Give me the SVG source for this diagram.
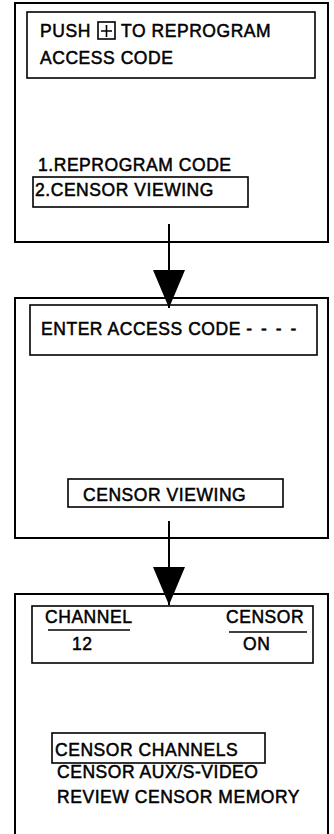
<svg xmlns="http://www.w3.org/2000/svg" width="334" height="834" viewBox="0 0 334 834">
<style>
.outer{fill:none;stroke:#000;stroke-width:2}
.inner{fill:none;stroke:#000;stroke-width:1.6}
.t{font-family:"Liberation Sans",Arial,sans-serif;font-size:17.5px;letter-spacing:0.55px;fill:#000;stroke:#000;stroke-width:0.5}
.conn{stroke:#000;stroke-width:2;fill:none}
</style>
<defs>
<marker id="ah" markerWidth="38" markerHeight="32" refX="38" refY="16" orient="auto" markerUnits="userSpaceOnUse" viewBox="0 0 38 32">
<path d="M0,0 L38,16 L0,32 Z" fill="#000"/>
</marker>
</defs>
<rect width="334" height="834" fill="#fff"/>
<g id="screen1">
<rect class="outer" x="15" y="3" width="313" height="239"/>
<rect class="inner" x="27" y="12" width="288" height="66"/>
<text class="t" x="40" y="37">PUSH</text>
<rect class="inner" x="98" y="22" width="17" height="17"/>
<path d="M106.5,25 V37 M101,31 H112" stroke="#000" stroke-width="1.6"/>
<text class="t" x="121" y="37">TO REPROGRAM</text>
<text class="t" x="40" y="64">ACCESS CODE</text>
<text class="t" x="38" y="171">1.REPROGRAM CODE</text>
<rect class="inner" x="33" y="177" width="215" height="30"/>
<text class="t" x="35" y="196">2.CENSOR VIEWING</text>
</g>
<g id="screen2">
<rect class="outer" x="15" y="298" width="313" height="240"/>
<rect class="inner" x="30" y="305" width="287" height="50"/>
<text class="t" x="41" y="335">ENTER ACCESS CODE <tspan style="letter-spacing:2px">- - - -</tspan></text>
<rect class="inner" x="68" y="479" width="215" height="28"/>
<text class="t" x="83" y="501">CENSOR VIEWING</text>
</g>
<g id="screen3">
<rect class="outer" x="15" y="594" width="313" height="250"/>
<rect class="inner" x="32" y="606" width="281" height="57"/>
<text class="t" x="45" y="623">CHANNEL</text>
<line x1="48" y1="630" x2="130" y2="630" stroke="#000" stroke-width="1.6"/>
<text class="t" x="72" y="650">12</text>
<text class="t" x="226" y="623">CENSOR</text>
<line x1="229" y1="632" x2="307" y2="632" stroke="#000" stroke-width="1.6"/>
<text class="t" x="243" y="650">ON</text>
<rect class="inner" x="52" y="733" width="213" height="30"/>
<text class="t" x="55" y="756">CENSOR CHANNELS</text>
<text class="t" x="57" y="778">CENSOR AUX/S-VIDEO</text>
<text class="t" x="57" y="803">REVIEW CENSOR MEMORY</text>
</g>
<g id="connectors">
<line class="conn" x1="169" y1="224" x2="169" y2="308" marker-end="url(#ah)"/>
<line class="conn" x1="169" y1="521" x2="169" y2="605" marker-end="url(#ah)"/>
</g>
</svg>
